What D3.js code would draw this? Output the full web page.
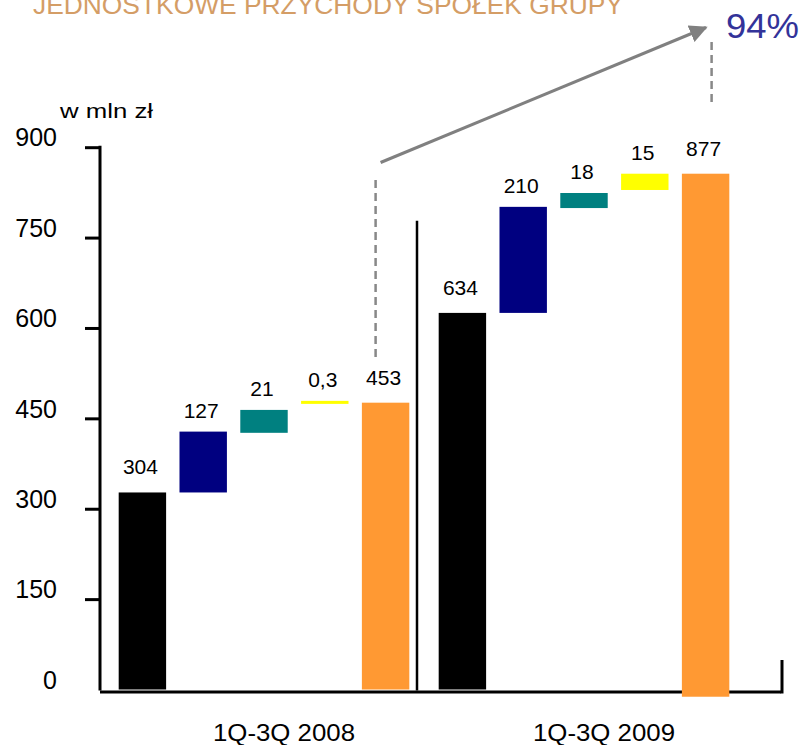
<!DOCTYPE html>
<html>
<head>
<meta charset="utf-8">
<script src="https://cdn.jsdelivr.net/npm/d3@7"></script>
<style>
  body { margin: 0; background: #fff; }
  svg text { font-family: Arial, "Liberation Sans", sans-serif; }
</style>
</head>
<body>
<div id="chart"></div>
<script>

// data

var periods = ["1Q-3Q 2008", "1Q-3Q 2009"];
var steps = ["start", "s1", "s2", "s3", "end"];
var stepColors = ["#000000", "#000080", "#008080", "#ffff00", "#ff9933"];

// value labels as printed on the chart
var labels2008 = ["304", "127", "21", "0,3", "453"];
var labels2009 = ["634", "210", "18", "15", "877"];

// bar extents as drawn (w mln zł)
var barLow2008 = [0, 327, 426, 474, 0];
var barHigh2008 = [327, 428, 464, 479, 476];
var barLow2009 = [0, 625, 799, 829, -12];
var barHigh2009 = [625, 801, 824, 856, 856];

var yTicks = [0, 150, 300, 450, 600, 750, 900];
var growth = "94%";

var width = 805,
    height = 745;

var svg = d3.select("#chart").append("svg")
  .attr("width", width)
  .attr("height", height);

// scales

var y = d3.scaleLinear()
  .domain([0, 900])
  .range([689.5, 147.2]);

var xGroup = d3.scaleBand()
  .domain(periods)
  .range([112, 736])
  .paddingInner(0.05);

var xStep = d3.scaleBand()
  .domain(steps)
  .range([0, xGroup.bandwidth()])
  .paddingInner(0.22)
  .paddingOuter(0.11);

// title (cut off at the top)

svg.append("text")
  .attr("x", 33)
  .attr("y", 13.5)
  .attr("textLength", 590)
  .attr("lengthAdjust", "spacingAndGlyphs")
  .style("font-size", "26px")
  .style("fill", "#d49d66")
  .text("JEDNOSTKOWE PRZYCHODY SPÓŁEK GRUPY");

// y axis

var yAxis = d3.axisLeft(y)
  .tickValues(yTicks)
  .tickSize(15)
  .tickPadding(28)
  .tickSizeOuter(0);

var gy = svg.append("g")
  .attr("transform", "translate(100,0)")
  .call(yAxis);

gy.select(".domain").remove();
gy.selectAll(".tick line")
  .attr("stroke", "#000")
  .attr("stroke-width", 3)
  .style("display", function(d) { return d === 0 ? "none" : null; });
gy.selectAll(".tick text")
  .attr("dy", "-0.05em")
  .style("font-size", "25px")
  .style("font-family", "Arial, 'Liberation Sans', sans-serif")
  .style("fill", "#000");

svg.append("line")
  .attr("x1", 100).attr("x2", 100)
  .attr("y1", y(900) - 1.5).attr("y2", y(0) + 1)
  .attr("stroke", "#000")
  .attr("stroke-width", 3);

svg.append("text")
  .attr("x", 60)
  .attr("y", 118)
  .attr("textLength", 93)
  .attr("lengthAdjust", "spacingAndGlyphs")
  .style("font-size", "21px")
  .text("w mln zł");

// bars

var groups = [
  { period: periods[0], low: barLow2008, high: barHigh2008, labels: labels2008 },
  { period: periods[1], low: barLow2009, high: barHigh2009, labels: labels2009 }
];

// x axis line (drawn under the bars, the last bar sticks out below it)

svg.append("line")
  .attr("x1", 100).attr("x2", 781)
  .attr("y1", y(0) + 2.5).attr("y2", y(0) + 2.5)
  .attr("stroke", "#000")
  .attr("stroke-width", 3);

svg.append("line")
  .attr("x1", 782).attr("x2", 782)
  .attr("y1", 660).attr("y2", y(0) + 4)
  .attr("stroke", "#000")
  .attr("stroke-width", 3);

groups.forEach(function(g) {

  var gx = xGroup(g.period);

  svg.selectAll(".bar-" + g.period.slice(-4))
    .data(steps)
    .enter()
      .append("rect")
        .attr("class", "bar-" + g.period.slice(-4))
        .attr("x", function(d) { return gx + xStep(d); })
        .attr("width", xStep.bandwidth())
        .attr("y", function(d, i) { return y(g.high[i]); })
        .attr("height", function(d, i) { return y(g.low[i]) - y(g.high[i]); })
        .attr("fill", function(d, i) { return stepColors[i]; });

  svg.selectAll(".lab-" + g.period.slice(-4))
    .data(steps)
    .enter()
      .append("text")
        .attr("class", "lab-" + g.period.slice(-4))
        .attr("x", function(d) { return gx + xStep(d) + xStep.bandwidth() / 2 - 2; })
        .attr("y", function(d, i) { return y(g.high[i]) - (i == 0 || i == 4 ? 18 : 14); })
        .attr("text-anchor", "middle")
        .style("font-size", "21px")
        .text(function(d, i) { return g.labels[i]; });

  svg.append("text")
    .attr("x", gx + xGroup.bandwidth() / 2 + 20)
    .attr("y", 741)
    .attr("text-anchor", "middle")
    .attr("textLength", 142)
    .attr("lengthAdjust", "spacingAndGlyphs")
    .style("font-size", "23px")
    .text(g.period);
});

// divider between the periods

svg.append("line")
  .attr("x1", xGroup(periods[1]) - 15).attr("x2", xGroup(periods[1]) - 15)
  .attr("y1", y(778)).attr("y2", y(0) + 1)
  .attr("stroke", "#000")
  .attr("stroke-width", 2.5);

// growth annotation

var x08 = xGroup(periods[0]) + xStep("end") + xStep.bandwidth() / 2,
    x09 = xGroup(periods[1]) + xStep("end") + xStep.bandwidth() / 2;

svg.append("defs").append("marker")
  .attr("id", "arrow")
  .attr("viewBox", "0 0 10 10")
  .attr("refX", 9)
  .attr("refY", 5)
  .attr("markerWidth", 6)
  .attr("markerHeight", 6)
  .attr("markerUnits", "strokeWidth")
  .attr("orient", "auto")
  .append("path")
    .attr("d", "M0,0L10,5L0,10z")
    .attr("fill", "#808080");

svg.append("line")
  .attr("x1", x08 - 10).attr("x2", x08 - 10)
  .attr("y1", 180).attr("y2", 358)
  .attr("stroke", "#888")
  .attr("stroke-width", 2.5)
  .attr("stroke-dasharray", "8,5");

svg.append("line")
  .attr("x1", x09 + 6).attr("x2", x09 + 6)
  .attr("y1", 42).attr("y2", 103)
  .attr("stroke", "#888")
  .attr("stroke-width", 2.5)
  .attr("stroke-dasharray", "8,5");

svg.append("line")
  .attr("x1", x08 - 5).attr("y1", 162.5)
  .attr("x2", 706).attr("y2", 27.5)
  .attr("stroke", "#808080")
  .attr("stroke-width", 3)
  .attr("marker-end", "url(#arrow)");

svg.append("text")
  .attr("x", 726)
  .attr("y", 37.5)
  .attr("textLength", 73)
  .attr("lengthAdjust", "spacingAndGlyphs")
  .style("font-size", "35px")
  .style("fill", "#333399")
  .text(growth);

</script>
</body>
</html>
